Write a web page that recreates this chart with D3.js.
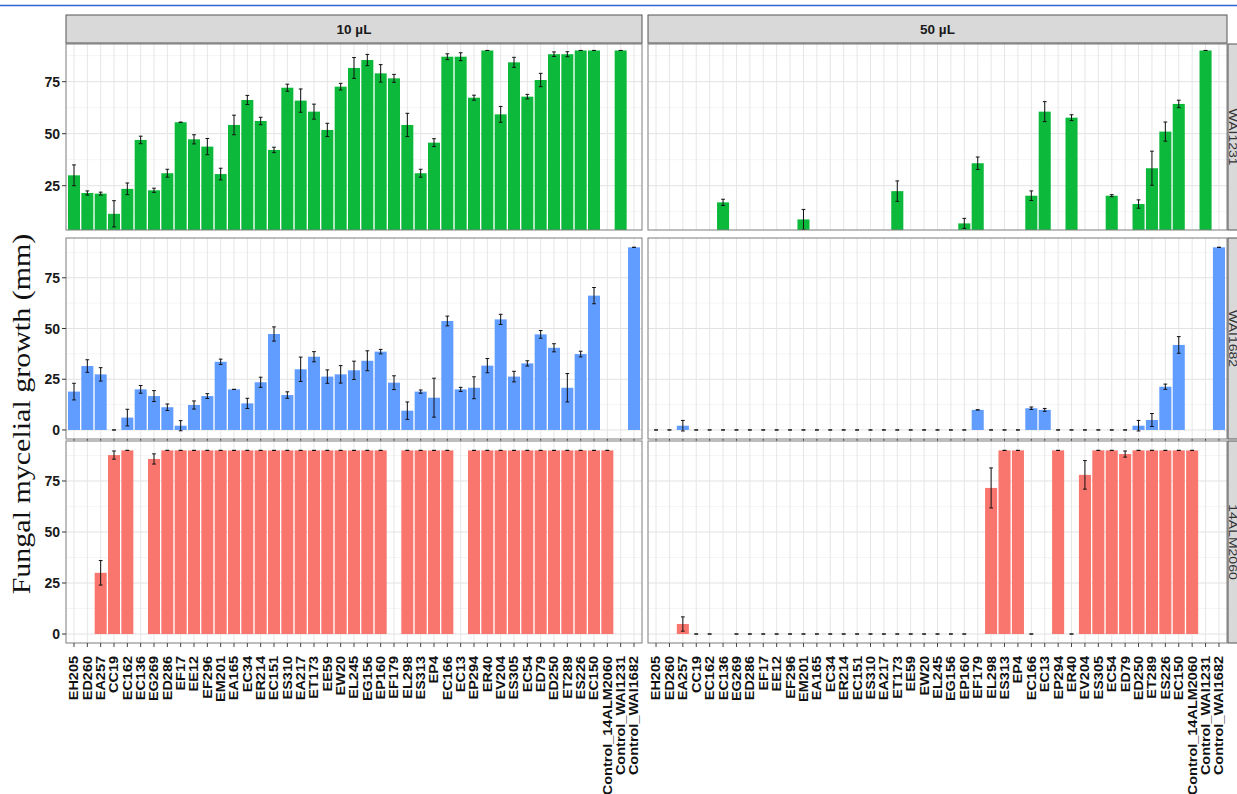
<!DOCTYPE html>
<html>
<head>
<meta charset="utf-8">
<script src="https://cdn.jsdelivr.net/npm/d3@7"></script>
<style>
  body { margin: 0; background: #fff; }
  svg { display: block; }
</style>
</head>
<body>
<svg id="chart" width="1237" height="794"></svg>
<script>
// Isolates tested on each fungal strain
const categories = ["EH205","ED260","EA257","CC19","EC162","EC136","EG269","ED286","EF17","EE12",
  "EF296","EM201","EA165","EC34","ER214","EC151","ES310","EA217","ET173","EE59","EW20","EL245",
  "EG156","EP160","EF179","EL298","ES313","EP4","EC166","EC13","EP294","ER40","EV204","ES305",
  "EC54","ED79","ED250","ET289","ES226","EC150","Control_14ALM2060","Control_WAI1231","Control_WAI1682"];

const concentrations = ["10 µL", "50 µL"];
const strains = ["WAI1231", "WAI1682", "14ALM2060"];
const strainColors = ["#0cb93b", "#619cff", "#f8766d"];
const yTicks = [0, 25, 50, 75];
const yMinorTicks = [12.5, 37.5, 62.5, 87.5];

// Mean mycelial growth (mm) and standard error; null = not tested
const wai1231_10 = [30,21.5,21.2,11.5,23.5,47,22.8,31,55.5,47.3,43.8,30.6,54.2,66.2,56.1,42.2,72.1,65.9,60.6,51.8,72.6,81.6,
  85.4,79,76.6,54.2,31,45.7,87,87,67.3,90,59.3,84.3,67.8,75.8,88.2,88.2,90,90,null,90,null];
const wai1231_10_se = [5,1,0.7,6.3,2.8,1.8,1,1.9,0,2.2,3.9,2.8,4.7,2.2,1.8,1.3,1.7,5.6,3.6,3.2,1.6,5,
  2.7,4.2,1.9,5.6,1.9,1.9,1.4,1.9,1.2,0,3.8,2.4,1.1,3.2,1.1,1.2,0,0,null,0,null];

const wai1231_50 = [0,0,0,0,0,17,0,0,0,0,0,8.8,0,0,0,0,0,0,22.4,0,0,0,
  0,6.9,35.8,0,0,0,20.2,60.6,0,57.7,0,0,20.2,0,16.2,33.4,51,64.3,null,90,null];
const wai1231_50_se = [0,0,0,0,0,1.5,0,0,0,0,0,4.8,0,0,0,0,0,0,4.9,0,0,0,
  0,2.4,3,0,0,0,2.3,4.8,0,1.4,0,0,0.5,0,2,8.2,4.6,1.8,null,0,null];

const wai1682_10 = [18.9,31.5,27.4,0,6.1,20,16.7,11.2,2.1,12.3,16.7,33.6,20,13.1,23.5,47.3,17.2,29.9,36.1,26.3,27.4,29.4,
  34.1,38.6,23.3,9.5,18.9,15.9,53.7,20,20.8,31.7,54.5,26.3,32.8,47.1,40.5,20.8,37.4,66.2,null,null,90];
const wai1682_10_se = [4.1,3.1,3.3,0,4.1,1.9,2.7,1.6,2.5,2,1.2,1.3,0,2.5,2.5,3.5,1.6,6,2.5,3.3,4.3,4.5,
  4.9,1.1,3.4,4.3,0.8,9.6,2.4,1,5.4,3.5,2.5,2.6,1.3,1.9,2,7,1.4,4,null,null,0];

const wai1682_50 = [0,0,2.1,0,0,0,0,0,0,0,0,0,0,0,0,0,0,0,0,0,0,0,
  0,0,9.9,0,0,0,10.7,9.9,0,0,0,0,0,0,2.1,4.9,21.3,41.9,null,null,90];
const wai1682_50_se = [0,0,2.6,0,0,0,0,0,0,0,0,0,0,0,0,0,0,0,0,0,0,0,
  0,0,0,0,0,0,0.6,0.7,0,0,0,0,0,0,2.6,3.2,1.3,4.1,null,null,0];

const alm2060_10 = [null,null,30,87.7,90,null,85.8,90,90,90,90,90,90,90,90,90,90,90,90,90,90,90,
  90,90,null,90,90,90,90,null,90,90,90,90,90,90,90,90,90,90,90,null,null];
const alm2060_10_se = [null,null,6,2,0,null,2.5,0,0,0,0,0,0,0,0,0,0,0,0,0,0,0,
  0,0,null,0,0,0,0,null,0,0,0,0,0,0,0,0,0,0,0,null,null];

const alm2060_50 = [null,null,4.9,0,0,null,0,0,0,0,0,0,0,0,0,0,0,0,0,0,0,0,
  0,0,null,71.6,90,90,0,null,90,0,78,90,90,88.2,90,90,90,90,90,null,null];
const alm2060_50_se = [null,null,3.5,0,0,null,0,0,0,0,0,0,0,0,0,0,0,0,0,0,0,0,
  0,0,null,9.8,0,0,0,null,0,0,7,0,0,1.5,0,0,0,0,0,null,null];

// rows = strains, columns = concentrations
const panelData = [
  [[wai1231_10, wai1231_10_se], [wai1231_50, wai1231_50_se]],
  [[wai1682_10, wai1682_10_se], [wai1682_50, wai1682_50_se]],
  [[alm2060_10, alm2060_10_se], [alm2060_50, alm2060_50_se]]
];

// ---- layout ----
const svg = d3.select("#chart");
const columns = [{ x0: 66, x1: 642 }, { x0: 648, x1: 1227 }];
// visible panel box plus the pixel range of the (-4.5, 94.5) value span
const rows = [
  { top: 44, bottom: 230, r0: 247.1, r1: 41.1 },
  { top: 238, bottom: 439, r0: 439.1, r1: 238.2 },
  { top: 441, bottom: 643, r0: 643.2, r1: 441.2 }
];
const stripTop = 15, stripRightX = 1228, stripW = 26;
const sansBold = "'Liberation Sans', Arial, sans-serif";

// thin rule across the top of the page
svg.append("line").attr("x1", 0).attr("x2", 1237).attr("y1", 5.5).attr("y2", 5.5)
  .attr("stroke", "#2f64d6").attr("stroke-width", 1.3);

const defs = svg.append("defs");

rows.forEach((row, ri) => {
  const y = d3.scaleLinear().domain([-4.5, 94.5]).range([row.r0, row.r1]);
  columns.forEach((col, ci) => {
    const x = d3.scaleBand().domain(categories).range([col.x0, col.x1])
      .paddingInner(0.1).paddingOuter(0.15);
    const step = x.step();
    const [vals, ses] = panelData[ri][ci];
    const clipId = `clip-${ri}-${ci}`;
    defs.append("clipPath").attr("id", clipId).append("rect")
      .attr("x", col.x0).attr("y", row.top)
      .attr("width", col.x1 - col.x0).attr("height", row.bottom - row.top);

    const g = svg.append("g").attr("clip-path", `url(#${clipId})`);
    g.append("rect").attr("x", col.x0).attr("y", row.top)
      .attr("width", col.x1 - col.x0).attr("height", row.bottom - row.top).attr("fill", "#fff");

    // grid
    g.selectAll(".ymin").data(yMinorTicks).join("line")
      .attr("x1", col.x0).attr("x2", col.x1).attr("y1", d => y(d)).attr("y2", d => y(d))
      .attr("stroke", "#f1f1f1").attr("stroke-width", 0.7);
    g.selectAll(".ymaj").data(yTicks).join("line")
      .attr("x1", col.x0).attr("x2", col.x1).attr("y1", d => y(d)).attr("y2", d => y(d))
      .attr("stroke", "#e2e2e2").attr("stroke-width", 1);
    g.selectAll(".xmaj").data(categories).join("line")
      .attr("x1", d => x(d) + x.bandwidth() / 2).attr("x2", d => x(d) + x.bandwidth() / 2)
      .attr("y1", row.top).attr("y2", row.bottom)
      .attr("stroke", "#e6e6e6").attr("stroke-width", 1);

    const recs = categories.map((c, i) => ({ c, v: vals[i], se: ses[i] }))
      .filter(d => d.v !== null);

    // bars
    g.selectAll(".bar").data(recs.filter(d => d.v > 0)).join("rect")
      .attr("x", d => x(d.c)).attr("width", x.bandwidth())
      .attr("y", d => y(d.v)).attr("height", d => y(0) - y(d.v))
      .attr("fill", strainColors[ri]);

    // error bars
    const cap = step * 0.14;
    const eb = g.selectAll(".eb").data(recs).join("g")
      .attr("stroke", "#111").attr("stroke-width", 1);
    eb.append("line")
      .attr("x1", d => x(d.c) + x.bandwidth() / 2).attr("x2", d => x(d.c) + x.bandwidth() / 2)
      .attr("y1", d => y(d.v - d.se)).attr("y2", d => y(d.v + d.se));
    eb.append("line")
      .attr("x1", d => x(d.c) + x.bandwidth() / 2 - cap).attr("x2", d => x(d.c) + x.bandwidth() / 2 + cap)
      .attr("y1", d => y(d.v + d.se)).attr("y2", d => y(d.v + d.se));
    eb.append("line")
      .attr("x1", d => x(d.c) + x.bandwidth() / 2 - cap).attr("x2", d => x(d.c) + x.bandwidth() / 2 + cap)
      .attr("y1", d => y(d.v - d.se)).attr("y2", d => y(d.v - d.se));

    // panel border
    svg.append("rect").attr("x", col.x0).attr("y", row.top)
      .attr("width", col.x1 - col.x0).attr("height", row.bottom - row.top)
      .attr("fill", "none").attr("stroke", "#7d7d7d").attr("stroke-width", 1);

    // y axis on the left column
    if (ci === 0) {
      const vis = yTicks.filter(t => y(t) > row.top + 4 && y(t) < row.bottom - 4);
      const ax = svg.append("g");
      ax.selectAll("line").data(vis).join("line")
        .attr("x1", col.x0 - 4).attr("x2", col.x0).attr("y1", d => y(d)).attr("y2", d => y(d))
        .attr("stroke", "#333").attr("stroke-width", 1);
      ax.selectAll("text").data(vis).join("text")
        .attr("x", col.x0 - 6).attr("y", d => y(d)).attr("dy", "0.36em")
        .attr("text-anchor", "end").attr("font-family", sansBold).attr("font-weight", "bold")
        .attr("font-size", 14).attr("fill", "#1a1a1a").text(d => d);
    }

    // x ticks
    if (ri >= 1) {
      svg.append("g").selectAll("line").data(categories).join("line")
        .attr("x1", d => x(d) + x.bandwidth() / 2).attr("x2", d => x(d) + x.bandwidth() / 2)
        .attr("y1", row.bottom).attr("y2", row.bottom + (ri === 2 ? 4 : 2))
        .attr("stroke", "#444").attr("stroke-width", 1);
    }
    if (ri === 2) {
      svg.append("g").selectAll("text").data(categories).join("text")
        .attr("transform", d => `translate(${x(d) + x.bandwidth() / 2},${row.bottom + 13}) scale(0.85,1) rotate(-90)`)
        .attr("text-anchor", "end").attr("dy", "0.36em")
        .attr("font-family", sansBold).attr("font-weight", "bold").attr("font-size", 14.5)
        .attr("fill", "#111").text(d => d);
    }

    // top strips
    if (ri === 0) {
      svg.append("rect").attr("x", col.x0).attr("y", stripTop)
        .attr("width", col.x1 - col.x0).attr("height", row.top - stripTop - 1)
        .attr("fill", "#d9d9d9").attr("stroke", "#555").attr("stroke-width", 1);
      svg.append("text").attr("x", (col.x0 + col.x1) / 2).attr("y", (stripTop + row.top - 1) / 2)
        .attr("dy", "0.36em").attr("text-anchor", "middle")
        .attr("font-family", sansBold).attr("font-weight", "bold").attr("font-size", 13.5)
        .attr("fill", "#1a1a1a").text(concentrations[ci]);
    }
  });

  // right strips
  svg.append("rect").attr("x", stripRightX).attr("y", row.top)
    .attr("width", stripW).attr("height", row.bottom - row.top)
    .attr("fill", "#d9d9d9").attr("stroke", "#555").attr("stroke-width", 1);
  svg.append("text")
    .attr("transform", `translate(1232.5,${(row.top + row.bottom) / 2}) scale(0.75,1) rotate(90)`)
    .attr("text-anchor", "middle").attr("dy", "0.36em")
    .attr("font-family", "'Liberation Sans', Arial, sans-serif").attr("font-size", 14)
    .attr("fill", "#333").text(strains[ri]);
});

// y axis title
svg.append("text")
  .attr("transform", "translate(21,414) scale(0.85,1) rotate(-90)")
  .attr("text-anchor", "middle").attr("dy", "0.35em")
  .attr("font-family", "'Liberation Serif', 'Times New Roman', serif").attr("font-size", 30)
  .attr("fill", "#111").text("Fungal mycelial growth (mm)");
</script>
</body>
</html>
